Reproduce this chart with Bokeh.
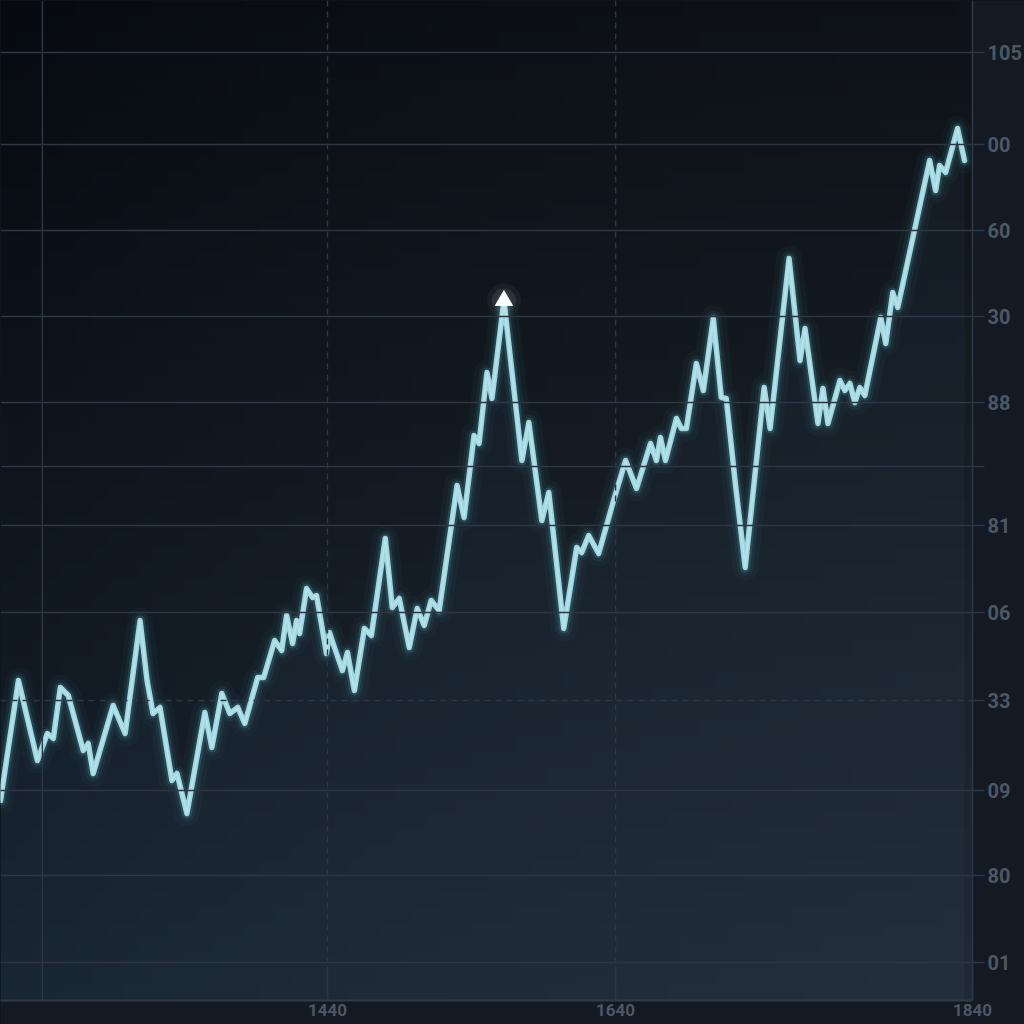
import numpy as np
from bokeh.plotting import figure
from bokeh.models import Range1d, FixedTicker, Span, BoxAnnotation
from bokeh.embed import file_html
from bokeh.resources import INLINE

# ---- data ----
x_vals = [0, 18, 37, 47, 53, 60, 68, 83, 88, 93,
          113, 125, 140, 147, 153, 160, 172, 177, 187, 205,
          212, 222, 230, 238, 245, 258, 264, 275, 282, 287,
          293, 297, 300, 307, 313, 317, 327, 330, 335, 343,
          348, 355, 365, 372, 386, 393, 400, 410, 418, 425,
          432, 440, 458, 465, 475, 480, 488, 493, 505, 523,
          530, 543, 550, 565, 578, 583, 590, 600, 615, 627,
          638, 652, 658, 662, 667, 678, 683, 688, 698, 705,
          715, 723, 728, 737, 747, 766, 772, 791, 802, 807,
          820, 825, 830, 842, 847, 852, 857, 862, 867, 883,
          888, 895, 900, 932, 938, 942, 948, 960, 967]
y_vals = [200, 320, 240, 267, 262, 313, 305, 250, 257, 227,
          295, 267, 380, 320, 287, 293, 220, 227, 187, 288,
          253, 307, 287, 293, 277, 323, 323, 360, 350, 385,
          357, 380, 367, 412, 403, 405, 347, 368, 353, 330,
          348, 310, 372, 365, 462, 393, 402, 353, 392, 375,
          400, 390, 515, 483, 565, 557, 628, 602, 700, 540,
          578, 480, 508, 372, 453, 448, 465, 447, 500, 540,
          512, 557, 540, 563, 540, 582, 572, 572, 637, 610,
          682, 603, 602, 518, 433, 613, 572, 742, 640, 672,
          577, 612, 577, 620, 610, 617, 598, 613, 605, 683,
          657, 708, 693, 840, 810, 835, 828, 872, 840]
assert len(x_vals) == len(y_vals)

peak_x = [505]
peak_y = [700]

y_ticks = [948, 856, 770, 684, 598, 534, 475, 388, 300, 210, 125, 38]
y_labels = ["105", "00", "60", "30", "88", "", "81", "06", "33", "09", "80", "01"]
x_grid = [42, 328, 617]
x_ticks = [328, 617, 975]
x_labels = ["1440", "1640", "1840"]

GRID = "#2c3743"
LABEL = "#4c5763"

p = figure(width=1024, height=1024,
           x_range=Range1d(0, 975), y_range=Range1d(0, 1000),
           output_backend="svg", toolbar_location=None,
           y_axis_location="right",
           min_border_left=0, min_border_top=0,
           min_border_right=49, min_border_bottom=24)
p.background_fill_color = "#121922"
p.border_fill_color = "#131a23"
p.outline_line_color = None
p.xgrid.grid_line_color = None
p.ygrid.grid_line_color = None

# background gradient (style only)
H, W = 64, 64
ty = np.linspace(0, 1, H)[:, None]
tx = np.linspace(0, 1, W)[None, :]
bottom = np.array([0x1a, 0x24, 0x30], dtype=float)
top = np.array([0x0b, 0x0f, 0x15], dtype=float)
img = np.zeros((H, W), dtype=np.uint32)
view = img.view(dtype=np.uint8).reshape((H, W, 4))
for c in range(3):
    ch = bottom[c] * (1 - ty) + top[c] * ty + 6 * tx * (1 - 0.5 * ty) - 4 * (1 - tx) ** 3
    view[:, :, c] = np.clip(ch, 0, 255).astype(np.uint8)
view[:, :, 3] = 255
p.image_rgba(image=[img], x=0, y=0, dw=975, dh=1000)

# area under line
p.varea(x=x_vals, y1=[0] * len(x_vals), y2=y_vals, fill_color="#5b8fae", fill_alpha=0.06)

# grid lines
for yv in y_ticks:
    dash = "6 5" if yv == 300 else "solid"
    p.add_layout(Span(location=yv, dimension="width", line_color=GRID,
                      line_width=1.6, line_dash=dash))
for xv in x_grid:
    dash = "6 5" if xv in (328, 617) else "solid"
    p.add_layout(Span(location=xv, dimension="height", line_color=GRID,
                      line_width=1.4, line_dash=dash))

# glowing line
for w, a in [(26, 0.035), (16, 0.07), (10, 0.17)]:
    p.line(x_vals, y_vals, line_color="#5fbccd", line_width=w, line_alpha=a,
           line_join="round", line_cap="round")
p.line(x_vals, y_vals, line_color="#9fd6e0", line_width=5.5, line_join="round", line_cap="round")
p.line(x_vals, y_vals, line_color="#c6edf2", line_width=2, line_alpha=0.55, line_join="round")

# peak marker
p.scatter(peak_x, peak_y, size=34, color="#ffffff", alpha=0.04, line_color=None)
p.scatter(peak_x, peak_y, size=24, color="#ffffff", alpha=0.07, line_color=None)
p.scatter(peak_x, peak_y, marker="triangle", size=17, color="#ffffff")

# faint bar at the bottom left
p.add_layout(BoxAnnotation(left=0, right=150, bottom=-12, top=-3,
                           fill_color="#2f3b49", fill_alpha=0.9, line_color=None))

# right axis
ax = p.yaxis[0]
ax.ticker = FixedTicker(ticks=y_ticks)
ax.major_label_overrides = {t: l for t, l in zip(y_ticks, y_labels)}
ax.major_tick_out = 12
ax.major_tick_in = 0
ax.minor_tick_line_color = None
ax.major_tick_line_color = GRID
ax.major_tick_line_width = 1.6
ax.axis_line_color = GRID
ax.axis_line_width = 1.6
ax.major_label_standoff = 3
ax.major_label_text_color = LABEL
ax.major_label_text_font = "Roboto"
ax.major_label_text_font_style = "bold"
ax.major_label_text_font_size = "20px"

# bottom axis
bx = p.xaxis[0]
bx.ticker = FixedTicker(ticks=x_ticks)
bx.major_label_overrides = {t: l for t, l in zip(x_ticks, x_labels)}
bx.major_tick_in = 34
bx.major_tick_out = 0
bx.minor_tick_line_color = None
bx.major_tick_line_color = GRID
bx.major_tick_line_width = 1.6
bx.axis_line_color = "#2f3b48"
bx.axis_line_width = 2
bx.major_label_standoff = 3
bx.major_label_text_color = LABEL
bx.major_label_text_font = "Roboto"
bx.major_label_text_font_style = "bold"
bx.major_label_text_font_size = "17px"

html = file_html(p, INLINE, "chart")
i = html.rfind("</body>")
html = html[:i] + "<style>html,body{background-color:#0e131a;}</style>" + html[i:]
open("out.html", "w").write(html)
